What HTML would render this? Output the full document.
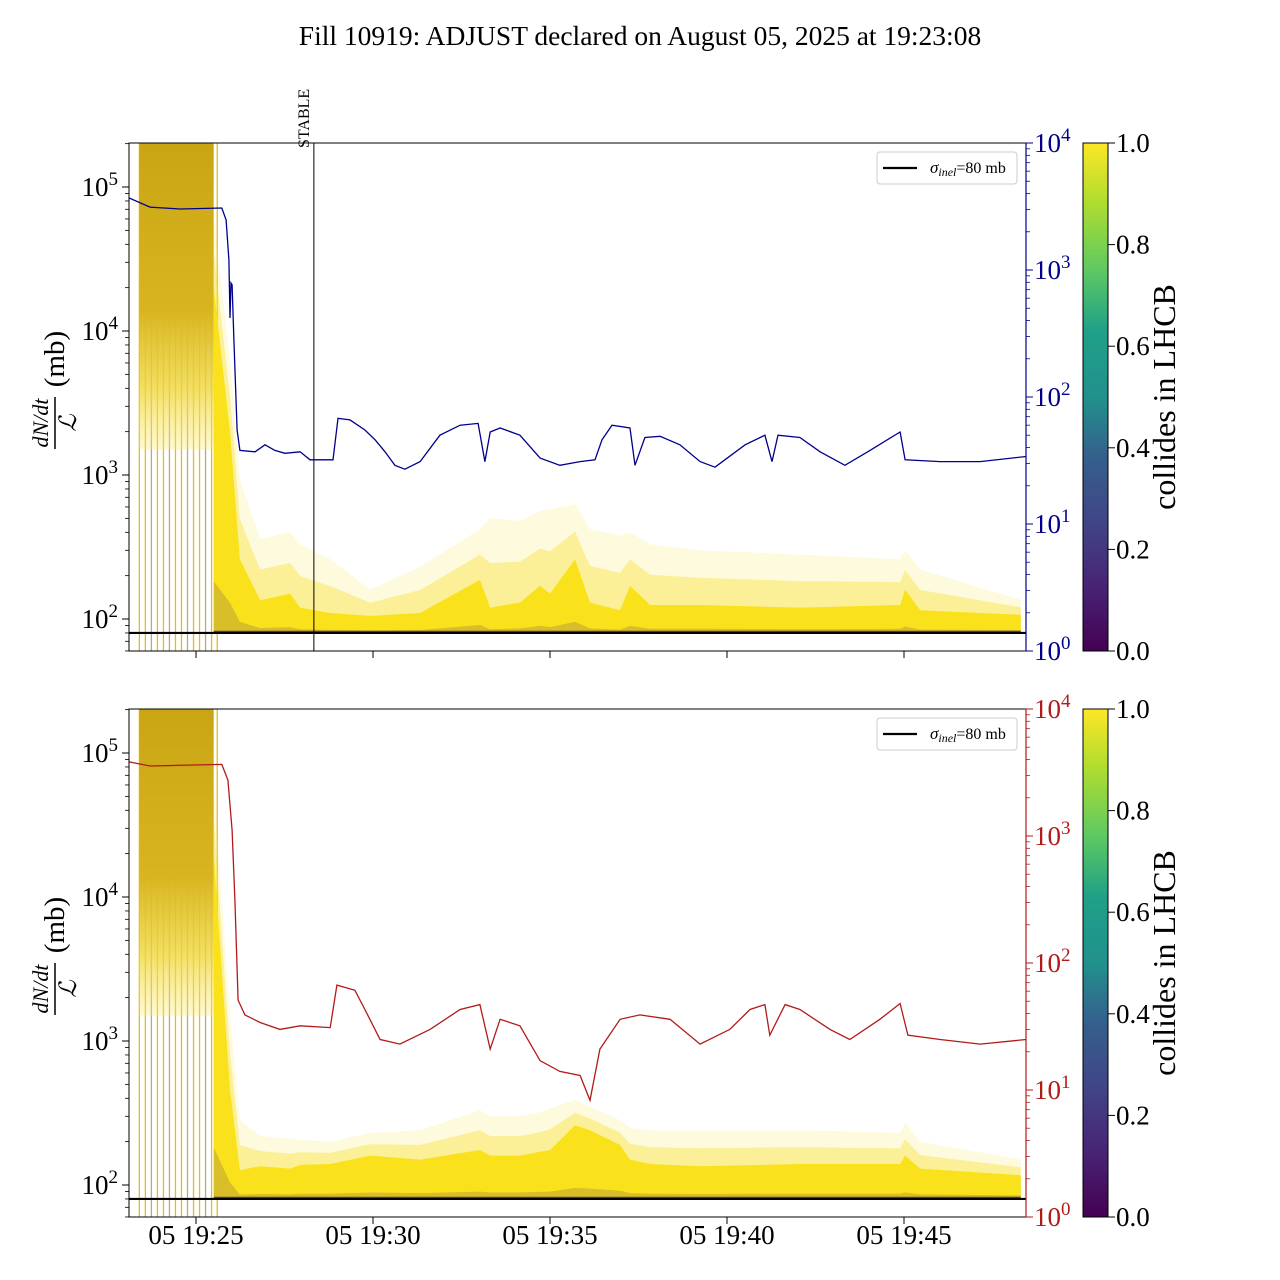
<!DOCTYPE html>
<html><head><meta charset="utf-8"><style>
html,body{margin:0;padding:0;background:#fff}
svg{display:block;font-family:"Liberation Serif",serif}
</style></head><body>
<svg id="chart" width="1280" height="1280" viewBox="0 0 1280 1280" xmlns="http://www.w3.org/2000/svg">
<defs>
<linearGradient id="viridis" x1="0" y1="1" x2="0" y2="0">
<stop offset="0" stop-color="#440154"/><stop offset="0.13" stop-color="#482475"/><stop offset="0.25" stop-color="#414487"/><stop offset="0.38" stop-color="#355f8d"/><stop offset="0.5" stop-color="#21918c"/><stop offset="0.63" stop-color="#1fa088"/><stop offset="0.75" stop-color="#5ec962"/><stop offset="0.88" stop-color="#addc30"/><stop offset="1" stop-color="#fde725"/>
</linearGradient>
<linearGradient id="blockg" x1="0" y1="0" x2="0" y2="1">
<stop offset="0" stop-color="#c9a514"/><stop offset="0.55" stop-color="#d8b520"/><stop offset="0.8" stop-color="#efd63a" stop-opacity="0.8"/><stop offset="1" stop-color="#fbe96a" stop-opacity="0.3"/>
</linearGradient>
</defs>
<text x="640" y="45" font-size="27.5" text-anchor="middle">Fill 10919: ADJUST declared on August 05, 2025 at 19:23:08</text>
<g id="top"></g>
<g id="bottom"></g>
</svg>
<script>
// ---- data (time in minutes after 19:00) ----
const xTickMinutes = [25, 30, 35, 40, 45];
const xTickLabels = ["05 19:25", "05 19:30", "05 19:35", "05 19:40", "05 19:45"];
const stableMinute = 28.33;
const sigmaInel = 80;
const streakMinutes = [23.4,23.57,23.74,23.91,24.08,24.25,24.42,24.59,24.76,24.93,25.1,25.27,25.44,25.6];

const blueT = [23.11,23.70,24.55,25.73,25.85,25.93,25.96,25.99,26.02,26.07,26.16,26.24,26.67,26.95,27.23,27.51,27.94,28.22,28.87,29.01,29.35,29.77,30.06,30.34,30.62,30.90,31.33,31.89,32.46,32.97,33.16,33.31,33.59,34.15,34.72,35.28,35.85,36.27,36.47,36.75,37.26,37.40,37.68,38.11,38.67,39.24,39.66,39.94,40.51,41.07,41.27,41.44,42.06,42.63,43.33,44.04,44.89,45.03,46.02,47.15,48.45];
const blueV = [3690,3130,3020,3080,2480,1200,419,790,765,281,55,38,37,42,38,36,37,32,32,68,66,55,46,37,29,27,31,50,60,62,31,53,57,50,33,29,31,32,46,60,57,29,48,49,42,31,28,32,42,50,31,50,48,37,29,38,53,32,31,31,34];

const redT = [23.11,23.70,25.73,25.90,26.02,26.10,26.19,26.38,26.81,27.37,27.94,28.79,28.98,29.49,29.77,30.20,30.76,31.61,32.46,33.02,33.31,33.59,34.15,34.72,35.28,35.85,36.13,36.41,36.98,37.54,38.39,39.24,40.08,40.65,41.07,41.21,41.64,42.06,42.91,43.47,44.32,44.89,45.11,46.02,47.15,48.45];
const redV = [3830,3560,3660,2760,1110,313,51,39,34,30,32,31,67,61,43,25,23,30,43,47,21,36,32,17,14,13,8.3,21,36,39,36,23,30,43,47,27,47,43,30,25,36,48,27,25,23,25];

const bandT = [25.5,25.96,26.24,26.81,27.66,27.94,28.79,29.92,31.33,33.02,33.31,34.15,34.72,35.0,35.71,36.13,36.98,37.26,37.83,39.24,42.06,44.89,45.03,45.46,48.3];
const topPale = [60000,6300,930,360,400,330,260,160,230,420,500,480,560,580,630,420,380,400,330,300,280,260,300,220,136];
const topCore = [20000,2000,260,135,150,120,110,105,110,187,120,130,170,150,260,130,115,170,125,125,120,125,160,115,107];
const botPale = [60000,1500,282,220,210,206,200,230,240,330,300,300,320,340,390,350,282,250,240,240,240,230,270,200,150];
const botCore = [20000,460,127,135,130,138,140,160,150,175,160,160,170,175,260,240,190,150,140,135,140,140,160,130,117];

const cbTicks = [0, 0.2, 0.4, 0.6, 0.8, 1.0];
const cbLabels = ["0.0","0.2","0.4","0.6","0.8","1.0"];

const NS = "http://www.w3.org/2000/svg";
function mk(parent, tag, attrs, text){
  const e = document.createElementNS(NS, tag);
  for (const k in attrs) e.setAttribute(k, attrs[k]);
  if (text !== undefined) e.textContent = text;
  parent.appendChild(e); return e;
}
const X0 = 129, X1 = 1026;
function xs(t){ return 196 + (t - 25) * 35.4; }

function panel(gid, top, color, lineT, lineV, paleV, coreV, showX, showStable){
  const g = document.getElementById(gid);
  const bot = top + 508;
  const yl = v => (top + 44) + (5 - Math.log10(v)) * 144;
  const yr = v => bot - Math.log10(v) * 127;
  const clipId = "clip" + gid;
  const cp = mk(g, "clipPath", {id: clipId});
  mk(cp, "rect", {x: X0, y: top, width: X1 - X0, height: 508});
  const plot = mk(g, "g", {"clip-path": "url(#" + clipId + ")"});
  
  
  streakMinutes.forEach((t, i) => {
    const l = mk(plot, "line", {x1: xs(t), x2: xs(t), y1: top, y2: bot, stroke: i % 3 === 2 ? "#b9a98a" : "#e2bf18", "stroke-width": 1.3});
    
    
  });
  const blk = mk(plot, "rect", {x: xs(23.4), y: top, width: xs(25.5) - xs(23.4), height: yl(1500) - top, fill: "url(#blockg)"});
  
  
  function band(vals, fill, op, name){
    let d = "M" + xs(bandT[0]) + "," + yl(sigmaInel);
    bandT.forEach((t, i) => { d += " L" + xs(t).toFixed(1) + "," + yl(vals[i]).toFixed(1); });
    d += " L" + xs(bandT[bandT.length - 1]) + "," + yl(sigmaInel) + " Z";
    const p = mk(plot, "path", {d: d, fill: fill, "fill-opacity": op});
    
    
  }
  band(paleV, "#fbe96a", 0.22, "pale-envelope");
  band(paleV.map((v, i) => Math.sqrt(v * coreV[i])), "#f7e030", 0.4, "mid-envelope");
  band(coreV, "#f9e21c", 1, "core-band");
  band(coreV.map(v => Math.min(v, Math.pow(v, 0.15) * Math.pow(sigmaInel, 0.85))), "#9a7a40", 0.35, "dark-band");
  band(coreV.map(v => Math.min(v, 83)), "#4b1a5e", 0.8, "purple-band");
  let d = "";
  lineT.forEach((t, i) => { d += (i ? " L" : "M") + xs(t).toFixed(1) + "," + yr(lineV[i]).toFixed(1); });
  const ln = mk(plot, "path", {d: d, fill: "none", stroke: color, "stroke-width": 1.3});
  
  
  const sl = mk(plot, "line", {x1: X0, x2: X1, y1: yl(sigmaInel), y2: yl(sigmaInel), stroke: "#000", "stroke-width": 2.2});
  
  
  if (showStable){
    const st = mk(g, "line", {x1: xs(stableMinute), x2: xs(stableMinute), y1: top, y2: bot, stroke: "#000", "stroke-width": 1});
    
    
    const tx = mk(g, "text", {x: 0, y: 0, "font-size": 16, transform: "translate(" + (xs(stableMinute) - 5) + "," + (top + 5) + ") rotate(-90)"}, "STABLE");
    
    
  }
  const fr = mk(g, "rect", {x: X0, y: top, width: X1 - X0, height: 508, fill: "none", stroke: "#000", "stroke-width": 1});
  
  
  mk(g, "line", {x1: X1, x2: X1, y1: top, y2: bot, stroke: color, "stroke-width": 1.2});
  for (let e = 1; e <= 5; e++){
    for (let m = 1; m < 10; m++){
      const v = m * Math.pow(10, e); const y = yl(v);
      if (y < top || y > bot) continue;
      mk(g, "line", {x1: X0, x2: X0 - (m === 1 ? 7 : 4), y1: y, y2: y, stroke: "#000", "stroke-width": m === 1 ? 1 : 0.8});
    }
    const y = yl(Math.pow(10, e));
    if (e >= 2){
      const t = mk(g, "text", {x: 118, y: y + 9, "font-size": 27, "text-anchor": "end"});
      
      
      mk(t, "tspan", {}, "10");
      mk(t, "tspan", {dy: -11, "font-size": 19}, String(e));
    }
  }
  for (let e = 0; e <= 4; e++){
    const y = yr(Math.pow(10, e));
    mk(g, "line", {x1: X1, x2: X1 + 7, y1: y, y2: y, stroke: color, "stroke-width": 1});
    if (e < 4) for (let m = 2; m < 10; m++){ const ym = yr(m * Math.pow(10, e)); mk(g, "line", {x1: X1, x2: X1 + 4, y1: ym, y2: ym, stroke: color, "stroke-width": 0.8}); }
    const t = mk(g, "text", {x: 1034, y: y + 9, "font-size": 27, fill: color});
    
    
    mk(t, "tspan", {}, "10");
    mk(t, "tspan", {dy: -11, "font-size": 19}, String(e));
  }
  xTickMinutes.forEach((t, i) => {
    mk(g, "line", {x1: xs(t), x2: xs(t), y1: bot, y2: bot + 7, stroke: "#000", "stroke-width": 1});
    if (showX){
      const tx = mk(g, "text", {x: xs(t), y: bot + 27, "font-size": 27, "text-anchor": "middle"}, xTickLabels[i]);
      
      
    }
  });
  const yg = mk(g, "g", {transform: "translate(55," + (top + 260) + ") rotate(-90)"});
  
  
  mk(yg, "text", {x: -20, y: -7, "font-size": 22, "font-style": "italic", "text-anchor": "middle"}, "dN/dt");
  mk(yg, "line", {x1: -46, x2: 6, y1: 0, y2: 0, stroke: "#000", "stroke-width": 1.5});
  mk(yg, "text", {x: -20, y: 21, "font-size": 24, "font-style": "italic", "text-anchor": "middle"}, "ℒ");
  mk(yg, "text", {x: 44, y: 9, "font-size": 29, "text-anchor": "middle"}, "(mb)");
  const lg = mk(g, "g", {});
  
  
  mk(lg, "rect", {x: 877, y: top + 9, width: 140, height: 32, rx: 3, fill: "#fff", "fill-opacity": 0.85, stroke: "#ccc", "stroke-width": 1});
  mk(lg, "line", {x1: 883, x2: 917, y1: top + 25, y2: top + 25, stroke: "#000", "stroke-width": 2.2});
  const lt = mk(lg, "text", {x: 930, y: top + 30, "font-size": 16});
  mk(lt, "tspan", {"font-style": "italic", "font-size": 17}, "σ");
  mk(lt, "tspan", {"font-style": "italic", "font-size": 12, dy: 3}, "inel");
  mk(lt, "tspan", {dy: -3}, "=80 mb");
  const cb = mk(g, "rect", {x: 1083, y: top, width: 25, height: 508, fill: "url(#viridis)", stroke: "#000", "stroke-width": 1});
  
  
  cbTicks.forEach((v, i) => {
    const y = bot - v * 508;
    mk(g, "line", {x1: 1108, x2: 1115, y1: y, y2: y, stroke: "#000", "stroke-width": 1});
    const t = mk(g, "text", {x: 1116, y: y + 9, "font-size": 27}, cbLabels[i]);
    
    
  });
  const ct = mk(g, "text", {x: 0, y: 0, "font-size": 32, "text-anchor": "middle", transform: "translate(1175," + (top + 254) + ") rotate(-90)"}, "collides in LHCB");
  
  
}
panel("top", 143, "#00008b", blueT, blueV, topPale, topCore, false, true);
panel("bottom", 709, "#b21a1a", redT, redV, botPale, botCore, true, false);
</script>
</body></html>
